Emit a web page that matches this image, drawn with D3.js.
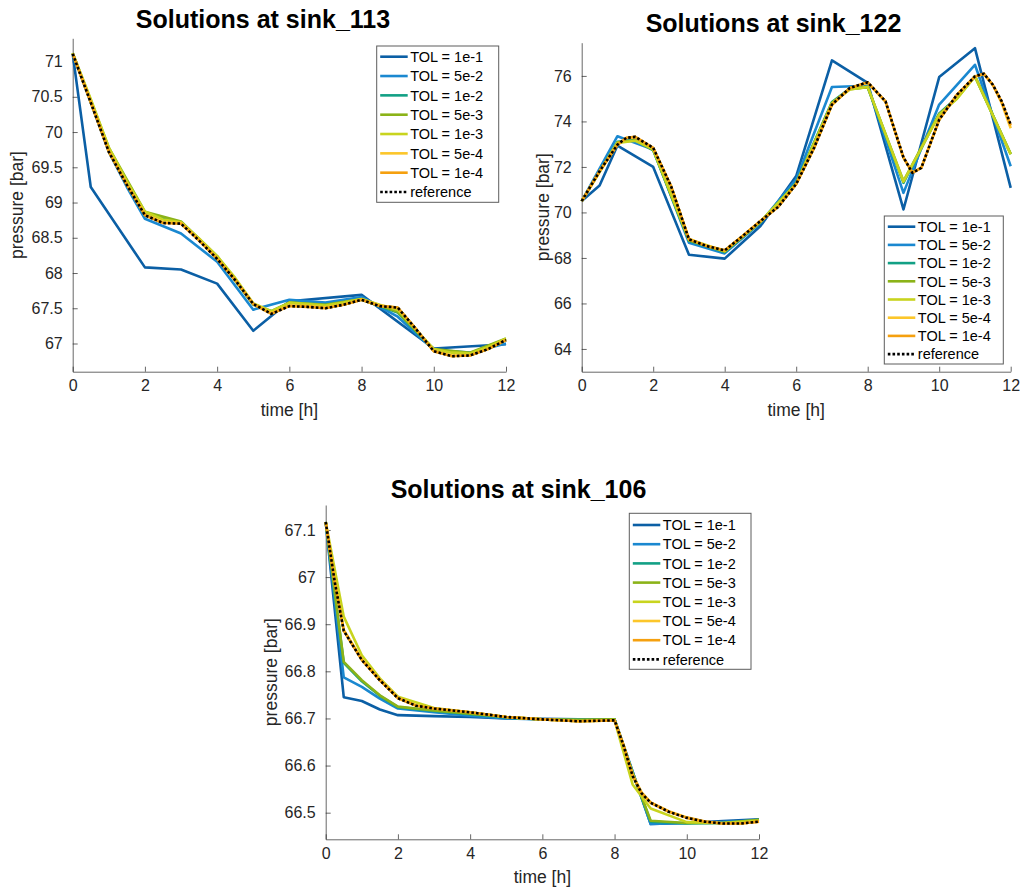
<!DOCTYPE html>
<html>
<head>
<meta charset="utf-8">
<script src="https://cdn.jsdelivr.net/npm/d3@7"></script>
<style>
  html, body { margin: 0; padding: 0; background: #ffffff; }
  svg { display: block; }
  text { font-family: "Liberation Sans", Arial, Helvetica, sans-serif; }
</style>
</head>
<body>
<svg id="chart" width="1022" height="892"></svg>
<script>
// ---------------- DATA ----------------
const xTicks = [0, 2, 4, 6, 8, 10, 12];
const tolLabels = ["TOL = 1e-1", "TOL = 5e-2", "TOL = 1e-2", "TOL = 5e-3", "TOL = 1e-3", "TOL = 5e-4", "TOL = 1e-4", "reference"];

// sink_113
const yTicks113 = [67, 67.5, 68, 68.5, 69, 69.5, 70, 70.5, 71];
const t113_1e1 = [0, 0.5, 2, 3, 4, 5, 6, 8, 10, 12];
const p113_1e1 = [71.11, 69.22, 68.08, 68.05, 67.85, 67.18, 67.60, 67.69, 66.93, 66.99];
const t113_5e2 = [0, 0.5, 1, 1.5, 2, 3, 4, 5, 6, 7, 8, 9, 10, 11, 12];
const p113_5e2 = [71.11, 70.42, 69.72, 69.22, 68.77, 68.56, 68.16, 67.48, 67.62, 67.58, 67.66, 67.38, 66.91, 66.87, 67.00];
const t113_1e2 = [0, 1, 2, 3, 4, 5, 5.5, 6, 7, 8, 9, 10, 11, 12];
const p113_1e2 = [71.12, 69.76, 68.85, 68.72, 68.23, 67.55, 67.46, 67.58, 67.55, 67.62, 67.44, 66.91, 66.86, 67.06];
const t113_5e3 = [0, 1, 2, 3, 4, 5, 5.5, 6, 7, 8, 9, 10, 11, 12];
const p113_5e3 = [71.12, 69.78, 68.87, 68.73, 68.24, 67.56, 67.45, 67.58, 67.55, 67.63, 67.45, 66.92, 66.87, 67.07];
const t113_1e3 = [0, 0.5, 1, 1.5, 2, 2.5, 3, 3.5, 4, 4.5, 5, 5.5, 6, 6.5, 7, 7.5, 8, 8.5, 9, 9.5, 10, 10.5, 11, 11.5, 12];
const p113_1e3 = [71.12, 70.47, 69.78, 69.30, 68.87, 68.76, 68.72, 68.49, 68.24, 67.93, 67.57, 67.46, 67.58, 67.56, 67.54, 67.58, 67.63, 67.55, 67.48, 67.20, 66.92, 66.87, 66.86, 66.95, 67.07];
const t113_5e4 = [0, 0.5, 1, 1.5, 2, 2.5, 3, 3.5, 4, 4.5, 5, 5.5, 6, 6.5, 7, 7.5, 8, 8.5, 9, 9.5, 10, 10.5, 11, 11.5, 12];
const p113_5e4 = [71.11, 70.43, 69.73, 69.26, 68.83, 68.72, 68.71, 68.47, 68.21, 67.90, 67.56, 67.43, 67.54, 67.53, 67.51, 67.55, 67.62, 67.54, 67.51, 67.21, 66.89, 66.83, 66.83, 66.92, 67.05];
const t113_1e4 = [0, 0.5, 1, 1.5, 2, 2.5, 3, 3.5, 4, 4.5, 5, 5.5, 6, 6.5, 7, 7.5, 8, 8.5, 9, 9.5, 10, 10.5, 11, 11.5, 12];
const p113_1e4 = [71.11, 70.42, 69.72, 69.25, 68.82, 68.71, 68.70, 68.46, 68.20, 67.90, 67.56, 67.42, 67.53, 67.52, 67.50, 67.55, 67.62, 67.53, 67.51, 67.21, 66.89, 66.82, 66.83, 66.92, 67.05];
const t113_ref = [0, 0.5, 1, 1.5, 2, 2.5, 3, 3.5, 4, 4.5, 5, 5.5, 6, 6.5, 7, 7.5, 8, 8.5, 9, 9.5, 10, 10.5, 11, 11.5, 12];
const p113_ref = [71.11, 70.42, 69.72, 69.25, 68.82, 68.71, 68.70, 68.46, 68.20, 67.90, 67.56, 67.42, 67.53, 67.52, 67.50, 67.55, 67.62, 67.53, 67.51, 67.21, 66.89, 66.82, 66.83, 66.92, 67.05];

// sink_122
const yTicks122 = [64, 66, 68, 70, 72, 74, 76];
const t122_1e1 = [0, 0.5, 1, 2, 3, 4, 5, 6, 7, 8, 9, 10, 11, 12];
const p122_1e1 = [70.50, 71.18, 72.94, 72.00, 68.14, 67.97, 69.40, 71.60, 76.68, 75.69, 70.13, 75.95, 77.22, 71.08];
const t122_5e2 = [0, 1, 2, 3, 4, 5, 6, 7, 8, 9, 10, 11, 12];
const p122_5e2 = [70.50, 73.35, 72.76, 68.67, 68.20, 69.55, 71.45, 75.51, 75.57, 70.86, 74.74, 76.49, 72.03];
const t122_1e2 = [0, 1, 1.5, 2, 3, 4, 5, 6, 7, 7.5, 8, 9, 10, 10.5, 11, 12];
const p122_1e2 = [70.50, 73.10, 73.18, 72.73, 68.75, 68.26, 69.57, 71.30, 74.85, 75.44, 75.50, 71.30, 74.35, 75.05, 75.99, 72.56];
const t122_5e3 = [0, 1, 1.5, 2, 3, 4, 5, 6, 7, 7.5, 8, 9, 10, 10.5, 11, 12];
const p122_5e3 = [70.50, 73.08, 73.17, 72.75, 68.78, 68.28, 69.58, 71.28, 74.82, 75.42, 75.50, 71.38, 74.32, 75.02, 75.98, 72.58];
const t122_1e3 = [0, 1, 1.5, 2, 3, 4, 5, 6, 7, 7.5, 8, 9, 10, 10.5, 11, 12];
const p122_1e3 = [70.50, 73.05, 73.15, 72.78, 68.82, 68.30, 69.60, 71.25, 74.80, 75.40, 75.52, 71.35, 74.30, 75.00, 75.98, 72.55];
const t122_5e4 = [0, 0.5, 1, 1.25, 1.5, 2, 2.5, 3, 3.5, 4, 4.5, 5, 5.5, 6, 6.5, 7, 7.5, 8, 8.5, 8.75, 9, 9.25, 9.5, 10, 10.5, 11, 11.25, 11.5, 11.75, 12];
const p122_5e4 = [70.50, 71.80, 72.97, 73.27, 73.31, 72.83, 71.15, 68.84, 68.53, 68.34, 68.96, 69.62, 70.25, 71.24, 72.82, 74.72, 75.46, 75.70, 74.86, 73.62, 72.40, 71.76, 71.97, 74.06, 75.17, 75.96, 76.08, 75.60, 74.80, 73.70];
const t122_1e4 = [0, 0.5, 1, 1.25, 1.5, 2, 2.5, 3, 3.5, 4, 4.5, 5, 5.5, 6, 6.5, 7, 7.5, 8, 8.5, 8.75, 9, 9.25, 9.5, 10, 10.5, 11, 11.25, 11.5, 11.75, 12];
const p122_1e4 = [70.50, 71.81, 72.98, 73.28, 73.32, 72.84, 71.15, 68.82, 68.52, 68.33, 68.96, 69.62, 70.25, 71.25, 72.84, 74.74, 75.47, 75.72, 74.88, 73.64, 72.42, 71.74, 71.96, 74.08, 75.18, 75.98, 76.10, 75.61, 74.86, 73.82];
const t122_ref = [0, 0.5, 1, 1.25, 1.5, 2, 2.5, 3, 3.5, 4, 4.5, 5, 5.5, 6, 6.5, 7, 7.5, 8, 8.5, 8.75, 9, 9.25, 9.5, 10, 10.5, 11, 11.25, 11.5, 11.75, 12];
const p122_ref = [70.50, 71.81, 72.98, 73.28, 73.32, 72.84, 71.15, 68.82, 68.52, 68.33, 68.96, 69.62, 70.25, 71.25, 72.84, 74.74, 75.47, 75.72, 74.88, 73.64, 72.42, 71.74, 71.96, 74.08, 75.18, 75.98, 76.10, 75.61, 74.88, 73.86];

// sink_106
const yTicks106 = [66.5, 66.6, 66.7, 66.8, 66.9, 67, 67.1];
const t106_1e1 = [0, 0.5, 1, 1.5, 2, 3, 4, 5, 6, 7, 8, 9, 10, 11, 12];
const p106_1e1 = [67.117, 66.745, 66.737, 66.719, 66.707, 66.705, 66.703, 66.700, 66.699, 66.698, 66.698, 66.476, 66.478, 66.482, 66.486];
const t106_5e2 = [0, 0.5, 1, 1.5, 2, 3, 4, 5, 6, 7, 8, 9, 10, 11, 12];
const p106_5e2 = [67.117, 66.787, 66.767, 66.742, 66.721, 66.713, 66.706, 66.700, 66.698, 66.698, 66.698, 66.476, 66.478, 66.480, 66.484];
const t106_1e2 = [0, 0.5, 1, 1.5, 2, 3, 4, 5, 6, 7, 8, 8.5, 9, 10, 11, 12];
const p106_1e2 = [67.117, 66.818, 66.779, 66.748, 66.724, 66.716, 66.709, 66.702, 66.698, 66.697, 66.698, 66.583, 66.481, 66.477, 66.478, 66.485];
const t106_5e3 = [0, 0.5, 1, 1.5, 2, 3, 4, 5, 6, 7, 8, 8.5, 9, 10, 11, 12];
const p106_5e3 = [67.117, 66.820, 66.781, 66.749, 66.725, 66.717, 66.710, 66.703, 66.698, 66.697, 66.698, 66.585, 66.483, 66.478, 66.478, 66.485];
const t106_1e3 = [0, 0.5, 1, 1.5, 2, 3, 4, 5, 6, 7, 8, 8.5, 9, 10, 11, 12];
const p106_1e3 = [67.117, 66.916, 66.834, 66.785, 66.746, 66.722, 66.713, 66.703, 66.698, 66.694, 66.696, 66.560, 66.509, 66.480, 66.478, 66.483];
const t106_5e4 = [0, 0.25, 0.5, 1, 1.5, 2, 2.5, 3, 4, 5, 6, 7, 8, 8.25, 8.5, 8.75, 9, 9.5, 10, 10.5, 11, 11.5, 12];
const p106_5e4 = [67.117, 66.992, 66.888, 66.826, 66.782, 66.744, 66.728, 66.721, 66.713, 66.703, 66.698, 66.694, 66.696, 66.644, 66.580, 66.543, 66.522, 66.503, 66.490, 66.481, 66.477, 66.477, 66.481];
const t106_1e4 = [0, 0.25, 0.5, 1, 1.5, 2, 2.5, 3, 4, 5, 6, 7, 8, 8.25, 8.5, 8.75, 9, 9.5, 10, 10.5, 11, 11.5, 12];
const p106_1e4 = [67.117, 66.990, 66.886, 66.824, 66.781, 66.743, 66.727, 66.721, 66.713, 66.703, 66.698, 66.694, 66.696, 66.642, 66.578, 66.541, 66.521, 66.502, 66.489, 66.481, 66.477, 66.477, 66.481];
const t106_ref = [0, 0.25, 0.5, 1, 1.5, 2, 2.5, 3, 4, 5, 6, 7, 8, 8.25, 8.5, 8.75, 9, 9.5, 10, 10.5, 11, 11.5, 12];
const p106_ref = [67.117, 66.990, 66.886, 66.824, 66.781, 66.743, 66.727, 66.721, 66.713, 66.703, 66.698, 66.694, 66.696, 66.642, 66.578, 66.541, 66.521, 66.502, 66.489, 66.481, 66.477, 66.477, 66.481];

// ---------------- STYLES / LAYOUT ----------------
const tolColors = ["#0b5fa5", "#1a88d0", "#12a085", "#8bb318", "#c8d41e", "#fcc62a", "#f5a00f", "#000000"];
const axisColor = "#262626";

const panels = [
  {
    title: "Solutions at sink_113",
    x0: 72.7, x1: 506, y0: 38.3, y1: 371.7,
    yDomain: [66.6, 71.33], yTicks: yTicks113,
    titleX: 263, titleY: 28,
    yLabelX: 17,
    legend: { x: 376.7, y: 46, w: 122, h: 156.3, row0: 56.7, rowStep: 19.33 },
    times: [t113_1e1, t113_5e2, t113_1e2, t113_5e3, t113_1e3, t113_5e4, t113_1e4, t113_ref],
    values: [p113_1e1, p113_5e2, p113_1e2, p113_5e3, p113_1e3, p113_5e4, p113_1e4, p113_ref]
  },
  {
    title: "Solutions at sink_122",
    x0: 581.7, x1: 1010.7, y0: 42.7, y1: 371.7,
    yDomain: [63, 77.46], yTicks: yTicks122,
    titleX: 773.5, titleY: 32,
    yLabelX: 543,
    legend: { x: 884.3, y: 216, w: 119, h: 148, row0: 226.7, rowStep: 18.2 },
    times: [t122_1e1, t122_5e2, t122_1e2, t122_5e3, t122_1e3, t122_5e4, t122_1e4, t122_ref],
    values: [p122_1e1, p122_5e2, p122_1e2, p122_5e3, p122_1e3, p122_5e4, p122_1e4, p122_ref]
  },
  {
    title: "Solutions at sink_106",
    x0: 325.7, x1: 759, y0: 505, y1: 839.3,
    yDomain: [66.4435, 67.153], yTicks: yTicks106,
    titleX: 518.5, titleY: 498,
    yLabelX: 271,
    legend: { x: 629.3, y: 513.3, w: 121.7, h: 156, row0: 525, rowStep: 19.2 },
    times: [t106_1e1, t106_5e2, t106_1e2, t106_5e3, t106_1e3, t106_5e4, t106_1e4, t106_ref],
    values: [p106_1e1, p106_5e2, p106_1e2, p106_5e3, p106_1e3, p106_5e4, p106_1e4, p106_ref]
  }
];

// ---------------- DRAW ----------------
const svg = d3.select("#chart");
svg.append("rect").attr("width", 1022).attr("height", 892).attr("fill", "#ffffff");

panels.forEach(p => {
  const x = d3.scaleLinear().domain([0, 12]).range([p.x0, p.x1]);
  const y = d3.scaleLinear().domain(p.yDomain).range([p.y1, p.y0]);
  const g = svg.append("g");

  // clip
  const clipId = "clip" + Math.round(p.x0);
  svg.append("clipPath").attr("id", clipId)
    .append("rect").attr("x", p.x0 - 2).attr("y", p.y0 - 2)
    .attr("width", p.x1 - p.x0 + 4).attr("height", p.y1 - p.y0 + 4);

  // axes
  const xAxis = d3.axisBottom(x).tickValues(xTicks).tickFormat(d3.format("d"))
    .tickSizeInner(-5).tickSizeOuter(0).tickPadding(8);
  const yAxis = d3.axisLeft(y).tickValues(p.yTicks).tickFormat(d => String(d))
    .tickSizeInner(-5).tickSizeOuter(0).tickPadding(10);

  const gx = g.append("g").attr("transform", `translate(0,${p.y1})`).call(xAxis);
  const gy = g.append("g").attr("transform", `translate(${p.x0},0)`).call(yAxis);
  [gx, gy].forEach(a => {
    a.select(".domain").attr("stroke", axisColor).attr("stroke-width", 1).attr("opacity", 0.7);
    a.selectAll(".tick line").attr("stroke", axisColor).attr("stroke-width", 1).attr("opacity", 0.7);
    a.selectAll(".tick text").attr("fill", axisColor)
      .style("font-family", "'Liberation Sans', Arial, sans-serif").style("font-size", "16px");
  });

  // lines
  const line = d3.line().x(d => x(d[0])).y(d => y(d[1]));
  const lg = g.append("g").attr("clip-path", `url(#${clipId})`);
  p.values.forEach((vals, i) => {
    const pts = vals.map((v, k) => [p.times[i][k], v]);
    const path = lg.append("path").datum(pts)
      .attr("d", line)
      .attr("fill", "none")
      .attr("stroke", tolColors[i])
      .attr("stroke-width", 2.6)
      .attr("stroke-linejoin", "round");
    if (i === 7) path.attr("stroke-dasharray", "2.6,2.1").attr("stroke-width", 2.6);
  });

  // title
  g.append("text").attr("x", p.titleX).attr("y", p.titleY)
    .attr("text-anchor", "middle").attr("font-weight", "bold")
    .style("font-size", "25px").attr("fill", "#000").text(p.title);

  // axis labels
  g.append("text").attr("x", (p.x0 + p.x1) / 2).attr("y", p.y1 + 44)
    .attr("text-anchor", "middle").style("font-size", "17.5px").attr("fill", axisColor)
    .text("time [h]");
  g.append("text")
    .attr("transform", `translate(${p.yLabelX},${(p.y0 + p.y1) / 2}) rotate(-90)`)
    .attr("dy", "0.35em")
    .attr("text-anchor", "middle").style("font-size", "17.5px").attr("fill", axisColor)
    .text("pressure [bar]");

  // legend
  const L = p.legend;
  const leg = g.append("g");
  leg.append("rect").attr("x", L.x).attr("y", L.y).attr("width", L.w).attr("height", L.h)
    .attr("fill", "#ffffff").attr("stroke", axisColor).attr("stroke-opacity", 0.75).attr("stroke-width", 1);
  tolLabels.forEach((lab, i) => {
    const cy = L.row0 + i * L.rowStep;
    const ln = leg.append("line").attr("x1", L.x + 3.5).attr("x2", L.x + 31)
      .attr("y1", cy).attr("y2", cy)
      .attr("stroke", tolColors[i]).attr("stroke-width", 2.6);
    if (i === 7) ln.attr("stroke-dasharray", "2.6,2.1");
    leg.append("text").attr("x", L.x + 33.5).attr("y", cy).attr("dy", "0.36em")
      .style("font-size", "14.5px").attr("fill", "#000").text(lab);
  });
});
</script>
</body>
</html>
